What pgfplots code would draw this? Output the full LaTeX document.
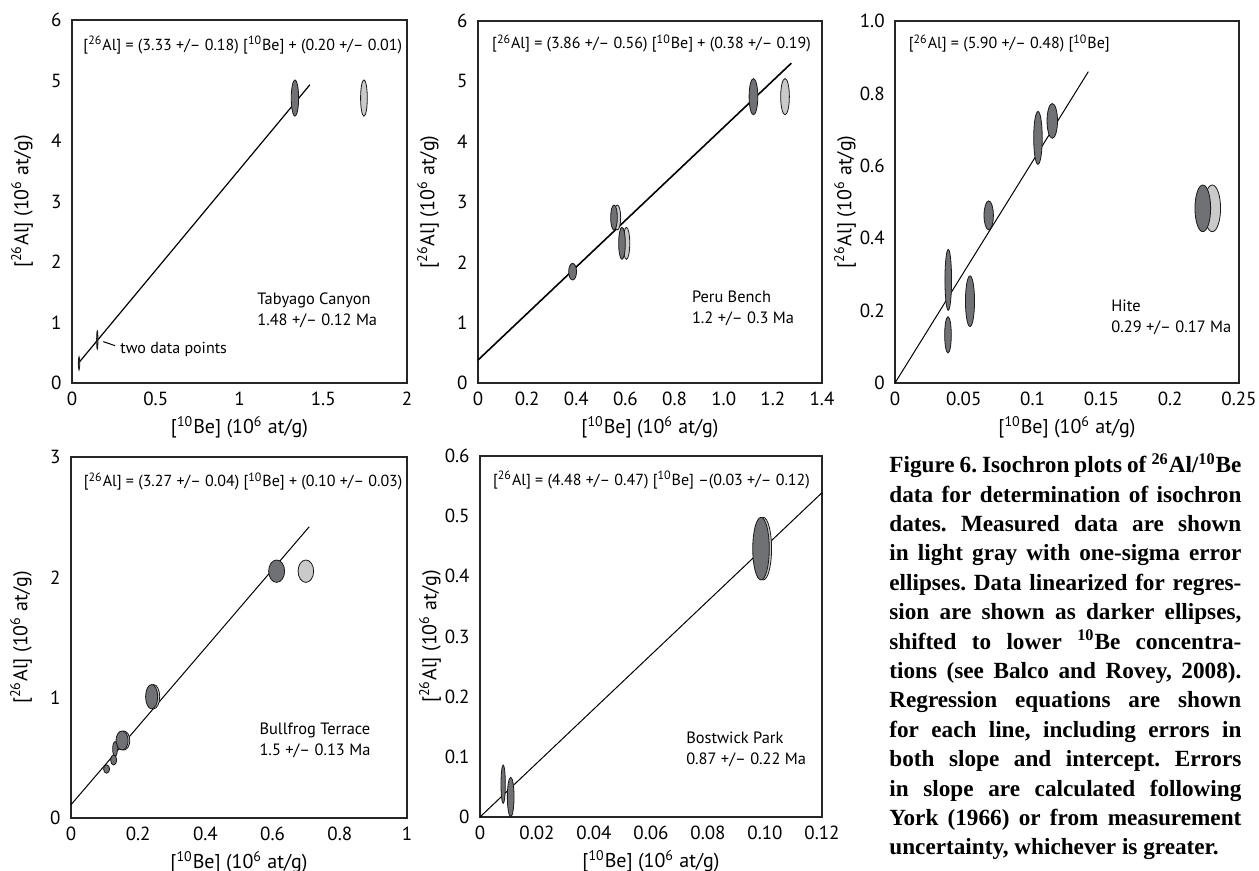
\documentclass[border=0pt]{standalone}
\usepackage{pgfplots}
\pgfplotsset{compat=1.18}
\usepackage{fontspec}
\setmainfont{PT Sans}
\newfontfamily\capfont{Liberation Serif}
\definecolor{dgray}{RGB}{112,113,116}
\definecolor{lgray}{RGB}{202,202,202}
\frenchspacing

\pgfdeclareplotmark{ell}{%
  \pgfpathellipse{\pgfpointorigin}%
    {\pgfplotspointaxisdirectionxy{\rx}{0}}%
    {\pgfplotspointaxisdirectionxy{0}{\ry}}%
  \pgfusepathqfillstroke}

\pgfplotsset{
  panel/.style={
    scale only axis, axis line style={line width=0.6pt, black!85},
    major tick length=0pt, tick style={draw=none},
    tick label style={font=\fontsize{9.5}{11}\selectfont, inner sep=0pt},
    xticklabel style={anchor=north, yshift=-4.2pt},
    yticklabel style={anchor=east, xshift=-5pt},
    label style={font=\fontsize{9.5}{11}\selectfont},
    every axis x label/.style={at={(rel axis cs:0.5,0)}, anchor=center, yshift=-22pt},
    every axis y label/.style={at={(rel axis cs:0,0.5)}, xshift=-25pt, rotate=90, anchor=center},
    xlabel={[\textsuperscript{10}Be] (10\textsuperscript{6} at/g)},
    ylabel={[\textsuperscript{26}Al] (10\textsuperscript{6} at/g)},
    clip=false,
  },
  ells/.style={only marks, scatter, mark=ell,
    scatter/@pre marker code/.code={}, scatter/@post marker code/.code={},
    visualization depends on={value \thisrow{rx}\as\rx},
    visualization depends on={value \thisrow{ry}\as\ry},
    mark options={draw=black!90, fill=#1, line width=0.4pt}},
  regline/.style={no marks, black, line width=#1},
}
\tikzset{eqn/.style={anchor=west, inner sep=0pt, font=\fontsize{8}{10}\selectfont},
  site/.style={anchor=west, inner sep=0pt, align=left, font=\fontsize{8.2}{10.5}\selectfont}}

\begin{document}
\begin{tikzpicture}
\useasboundingbox (0,0) rectangle (629.5pt,435.5pt);

% ---------------- Tabyago Canyon
\begin{axis}[panel, at={(36pt,244pt)}, anchor=south west, width=167.5pt, height=181.5pt,
  xmin=0, xmax=2, ymin=0, ymax=6,
  xtick={0,0.5,1,1.5,2}, xticklabels={0,0.5,1,1.5,2},
  ytick={0,1,2,3,4,5,6}, yticklabels={0,1,2,3,4,5,6}]
\addplot[ells=lgray] table {
x y rx ry
1.743 4.71 0.020 0.30
};
\addplot[ells=dgray] table {
x y rx ry
1.331 4.71 0.022 0.30
0.151 0.711 0.004 0.154
0.042 0.325 0.004 0.11
};
\addplot[regline=0.6pt] coordinates {(0.04,0.333) (1.42,4.929)};
\draw[black, line width=0.5pt] (axis cs:0.187,0.683) -- (axis cs:0.257,0.617);
\node[eqn] at (axis cs:0.287,0.562) {two data points};
\node[eqn] at (rel axis cs:0.033,0.931) {[\textsuperscript{26}Al] = (3.33 +/-- 0.18) [\textsuperscript{10}Be] + (0.20 +/-- 0.01)};
\node[site] at (rel axis cs:0.552,0.201) {Tabyago Canyon\\1.48 +/-- 0.12 Ma};
\end{axis}

% ---------------- Peru Bench
\begin{axis}[panel, at={(239pt,244pt)}, anchor=south west, width=172pt, height=181pt,
  xmin=0, xmax=1.4, ymin=0, ymax=6,
  xtick={0,0.2,0.4,0.6,0.8,1.0,1.2,1.4}, xticklabels={0,0.2,0.4,0.6,0.8,1.0,1.2,1.4},
  ytick={0,1,2,3,4,5,6}, yticklabels={0,1,2,3,4,5,6}]
\addplot[ells=lgray] table {
x y rx ry
1.2495 4.746 0.0177 0.30
0.567 2.743 0.0136 0.207
0.604 2.315 0.0136 0.265
};
\addplot[ells=dgray] table {
x y rx ry
1.121 4.746 0.0177 0.30
0.5535 2.743 0.0136 0.207
0.586 2.315 0.0136 0.265
0.385 1.845 0.016 0.138
};
\addplot[regline=0.8pt] coordinates {(0,0.38) (1.275,5.30)};
\node[eqn] at (rel axis cs:0.040,0.938) {[\textsuperscript{26}Al] = (3.86 +/-- 0.56) [\textsuperscript{10}Be] + (0.38 +/-- 0.19)};
\node[site] at (rel axis cs:0.621,0.206) {Peru Bench\\1.2 +/-- 0.3 Ma};
\end{axis}

% ---------------- Hite
\begin{axis}[panel, at={(447.5pt,244pt)}, anchor=south west, width=172pt, height=181pt,
  xmin=0, xmax=0.25, ymin=0, ymax=1,
  xtick={0,0.05,0.1,0.15,0.2,0.25}, xticklabels={0,0.05,0.1,0.15,0.2,0.25},
  ytick={0,0.2,0.4,0.6,0.8,1.0}, yticklabels={0,0.2,0.4,0.6,0.8,1.0}]
\addplot[regline=0.5pt] coordinates {(0,0) (0.1405,0.86)};
\addplot[ells=lgray] table {
x y rx ry
0.2306 0.4825 0.0060 0.0645
};
\addplot[ells=dgray] table {
x y rx ry
0.2237 0.4825 0.0057 0.0645
0.0387 0.285 0.0024 0.084
0.0385 0.133 0.0024 0.050
0.0545 0.226 0.0033 0.070
0.0681 0.463 0.0034 0.040
0.1039 0.677 0.0031 0.073
0.1143 0.724 0.0038 0.048
};
\node[eqn] at (rel axis cs:0.039,0.938) {[\textsuperscript{26}Al] = (5.90 +/-- 0.48) [\textsuperscript{10}Be]};
\node[site] at (rel axis cs:0.628,0.182) {Hite\\0.29 +/-- 0.17 Ma};
\end{axis}

% ---------------- Bullfrog Terrace
\begin{axis}[panel, at={(35.5pt,26.5pt)}, anchor=south west, width=168pt, height=180.5pt,
  xmin=0, xmax=1, ymin=0, ymax=3,
  xtick={0,0.2,0.4,0.6,0.8,1}, xticklabels={0,0.2,0.4,0.6,0.8,1},
  ytick={0,1,2,3}, yticklabels={0,1,2,3}]
\addplot[ells=lgray] table {
x y rx ry
0.699 2.051 0.0232 0.093
0.246 1.008 0.018 0.101
0.157 0.644 0.018 0.079
};
\addplot[ells=dgray] table {
x y rx ry
0.612 2.051 0.0238 0.093
0.240 1.008 0.018 0.101
0.152 0.644 0.018 0.079
0.131 0.573 0.007 0.062
0.127 0.482 0.009 0.042
0.106 0.407 0.009 0.035
};
\addplot[regline=0.5pt] coordinates {(0,0.11) (0.709,2.42)};
\node[eqn] at (rel axis cs:0.037,0.932) {[\textsuperscript{26}Al] = (3.27 +/-- 0.04) [\textsuperscript{10}Be] + (0.10 +/-- 0.03)};
\node[site] at (rel axis cs:0.560,0.214) {Bullfrog Terrace\\1.5 +/-- 0.13 Ma};
\end{axis}

% ---------------- Bostwick Park
\begin{axis}[panel, at={(240pt,27pt)}, anchor=south west, width=171pt, height=180.5pt,
  xmin=0, xmax=0.12, ymin=0, ymax=0.6,
  xtick={0,0.02,0.04,0.06,0.08,0.10,0.12}, xticklabels={0,0.02,0.04,0.06,0.08,0.10,0.12},
  ytick={0,0.1,0.2,0.3,0.4,0.5,0.6}, yticklabels={0,0.1,0.2,0.3,0.4,0.5,0.6}]
\addplot[regline=0.5pt] coordinates {(0,0) (0.12,0.539)};
\addplot[ells=lgray] table {
x y rx ry
0.0994 0.446 0.0029 0.052
};
\addplot[ells=dgray] table {
x y rx ry
0.0986 0.446 0.0029 0.052
0.00813 0.0545 0.00076 0.0319
0.01077 0.0332 0.00117 0.0327
};
\node[eqn] at (rel axis cs:0.037,0.934) {[\textsuperscript{26}Al] = (4.48 +/-- 0.47) [\textsuperscript{10}Be] --(0.03 +/-- 0.12)};
\node[site] at (rel axis cs:0.602,0.188) {Bostwick Park\\0.87 +/-- 0.22 Ma};
\end{axis}

% ---------------- Caption
\node[anchor=base west, inner sep=0pt, align=left,
  font=\capfont\bfseries\fontsize{11.6}{14.7}\selectfont] at (444.5pt,8pt) {%
\makebox[176pt][s]{Figure 6. Isochron plots of \textsuperscript{26}Al/\textsuperscript{10}Be}\\
\makebox[176pt][s]{data for determination of isochron}\\
\makebox[176pt][s]{dates. Measured data are shown}\\
\makebox[176pt][s]{in light gray with one-sigma error}\\
\makebox[176pt][s]{ellipses. Data linearized for regres-}\\
\makebox[176pt][s]{sion are shown as darker ellipses,}\\
\makebox[176pt][s]{shifted to lower \textsuperscript{10}Be concentra-}\\
\makebox[176pt][s]{tions (see Balco and Rovey, 2008).}\\
\makebox[176pt][s]{Regression equations are shown}\\
\makebox[176pt][s]{for each line, including errors in}\\
\makebox[176pt][s]{both slope and intercept. Errors}\\
\makebox[176pt][s]{in slope are calculated following}\\
\makebox[176pt][s]{York (1966) or from measurement}\\
uncertainty, whichever is greater.};
\end{tikzpicture}
\end{document}
